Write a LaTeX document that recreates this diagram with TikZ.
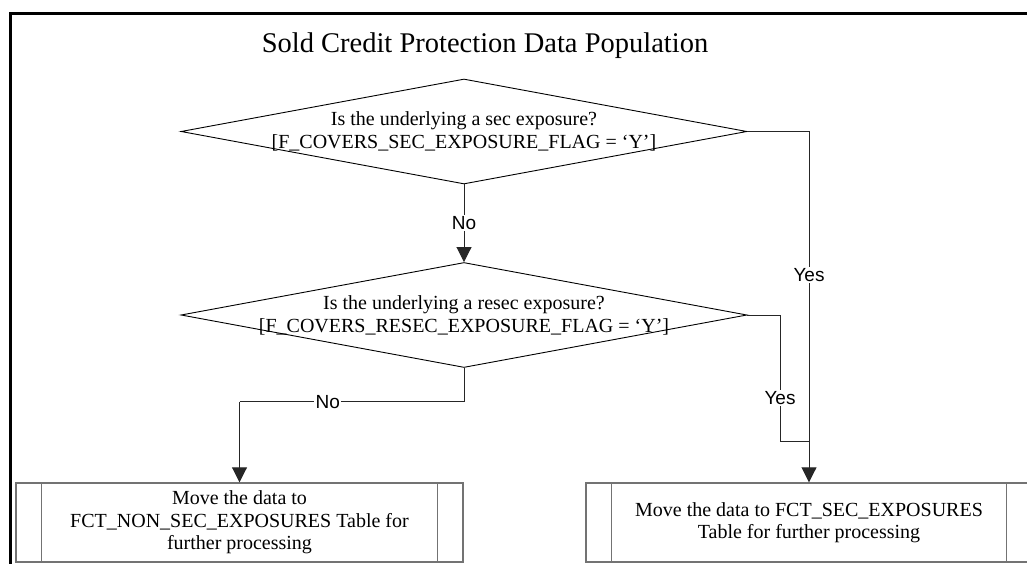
\documentclass[tikz,border=0pt]{standalone}
\usepackage{fontspec}
\setmainfont{Liberation Serif}
\newfontfamily\arial{Liberation Sans}
\usetikzlibrary{shapes.geometric,arrows.meta}
\tikzset{
  decision/.style={diamond, draw=black, line width=0.9pt, minimum width=566pt, minimum height=105pt, inner sep=0pt},
  dtext/.style={align=center, inner sep=0pt, font=\fontsize{20}{23.5}\selectfont},
  process/.style={rectangle, draw=black!55, line width=1.4pt, minimum height=79pt, inner sep=0pt, align=center},
  conn/.style={draw=black!85, line width=0.9pt},
  arr/.style={conn, -{Triangle[width=15pt,length=15pt]}},
  lbl/.style={fill=white, inner sep=1.5pt, font=\arial\fontsize{19}{22}\selectfont},
  frame/.style={line width=3.5pt, draw=black}
}
\begin{document}
\begin{tikzpicture}[x=1pt,y=-1pt]
\useasboundingbox (0,0) rectangle (1027,564);
\fill[white] (0,0) rectangle (1027,564);
% frame
\coordinate (fbl) at (10.5,640);
\coordinate (ftl) at (10.5,13.5);
\coordinate (ftr) at (1100,13.5);
\draw[frame] (fbl) -- (ftl) -- (ftr);
% title
\node[font=\fontsize{28.5}{32}\selectfont, inner sep=0pt] (title) at (485,46) {Sold Credit Protection Data Population};
% decisions
\node[decision] (d1) at (464,131.5) {};
\node[dtext] (d1t) at (464,131.5) {Is the underlying a sec exposure?\\{}[F\_COVERS\_SEC\_EXPOSURE\_FLAG = ‘Y’]};
\node[decision] (d2) at (464,315) {};
\node[dtext] (d2t) at (464,315.5) {Is the underlying a resec exposure?\\{}[F\_COVERS\_RESEC\_EXPOSURE\_FLAG = ‘Y’]};
% processes
\node[process, minimum width=447pt, font=\fontsize{20}{22.5}\selectfont] (b1) at (239.5,522.5) {Move the data to\\FCT\_NON\_SEC\_EXPOSURES Table for\\further processing};
\node[process, minimum width=446pt, font=\fontsize{20}{21.5}\selectfont] (b2) at (809,522.5) {Move the data to FCT\_SEC\_EXPOSURES\\Table for further processing};
\draw[draw=black!55, line width=1.4pt] ([xshift=26pt]b1.north west) -- ([xshift=26pt]b1.south west)
  ([xshift=-26pt]b1.north east) -- ([xshift=-26pt]b1.south east);
\draw[draw=black!55, line width=1.4pt] ([xshift=26pt]b2.north west) -- ([xshift=26pt]b2.south west)
  ([xshift=-26pt]b2.north east) -- ([xshift=-26pt]b2.south east);
% connectors
\coordinate (y1) at (809,131.5);
\draw[arr] (d1.south) -- node[lbl] {No} (d2.north);
\draw[arr] (d1.east) -- (y1) -- node[lbl, pos=0.408] {Yes} (b2.north);
\coordinate (c1) at (780,315);
\coordinate (c2) at (780,441.7);
\coordinate (c3) at (809,441.7);
\draw[conn] (d2.east) -- (c1) -- node[lbl, pos=0.655] {Yes} (c2) -- (c3);
\coordinate (c4) at (464,401.7);
\coordinate (c5) at (239.5,401.7);
\draw[conn] (d2.south) -- (c4) -- node[lbl, pos=0.607] {No} (c5);
\draw[arr] (c5) -- (b1.north);
\end{tikzpicture}
\end{document}
